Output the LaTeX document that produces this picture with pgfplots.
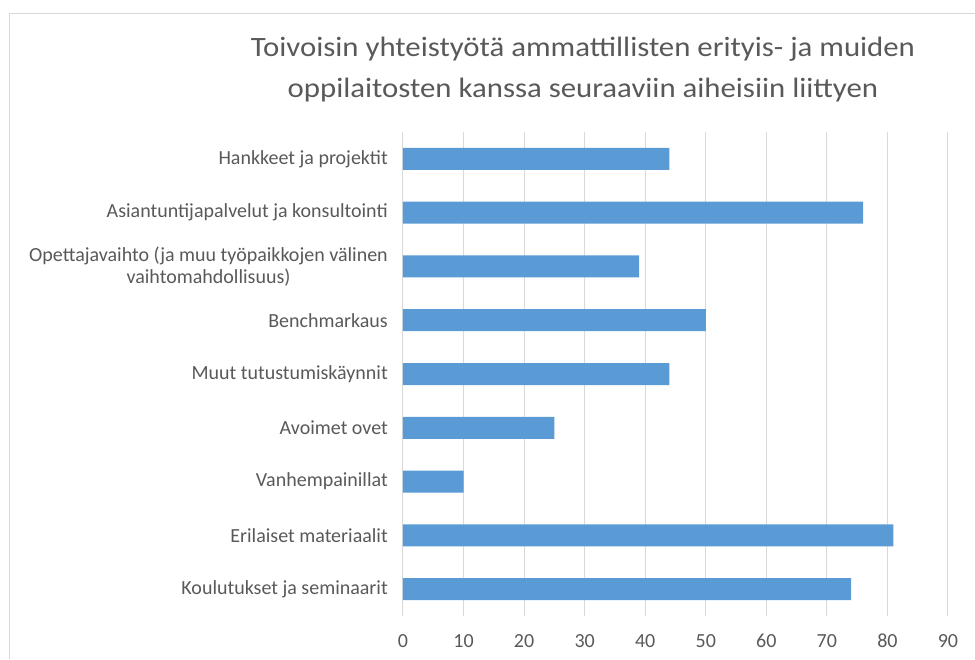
\documentclass[border=0pt]{standalone}
\usepackage{pgfplots}
\pgfplotsset{compat=1.18}
\usepackage{fontspec}
\setmainfont{Carlito}
\newfontfamily\titlefont[FakeStretch=1.1]{Carlito}
\definecolor{barblue}{HTML}{5B9BD5}
\definecolor{txt}{HTML}{595959}
\definecolor{gridc}{HTML}{D9D9D9}
\begin{document}
\begin{tikzpicture}
\path[use as bounding box] (0pt,0pt) rectangle (975pt,-659pt);
\draw[gridc, line width=1pt] (975pt,-13pt) -- (9.5pt,-13pt) -- (9.5pt,-659pt);
\node[txt, font=\titlefont\fontsize{28}{34}\selectfont, anchor=base, inner sep=0pt] at (583pt,-56pt)
  {Toivoisin yhteistyötä ammattillisten erityis- ja muiden};
\node[txt, font=\titlefont\fontsize{28}{34}\selectfont, anchor=base, inner sep=0pt] at (583pt,-97pt)
  {oppilaitosten kanssa seuraaviin aiheisiin liittyen};
\begin{axis}[
  at={(403pt,-132pt)}, anchor=north west,
  scale only axis, width=545pt, height=484pt,
  xbar, bar width=22pt,
  xmin=0, xmax=90, ymin=-0.5, ymax=8.5, y dir=reverse,
  ytick={0,...,8},
  yticklabels={Hankkeet ja projektit, Asiantuntijapalvelut ja konsultointi,
    {Opettajavaihto (ja muu työpaikkojen välinen\\vaihtomahdollisuus)},
    Benchmarkaus, Muut tutustumiskäynnit, Avoimet ovet, Vanhempainillat,
    Erilaiset materiaalit, Koulutukset ja seminaarit},
  xtick={0,10,...,90},
  xmajorgrids, major grid style={gridc, line width=1pt},
  axis line style={draw=none},
  major tick length=0pt,
  /pgf/number format/assume math mode=true,
  tick label style={txt, font=\fontsize{20}{22}\selectfont},
  yticklabel style={align=center, inner sep=0pt, xshift=-15pt},
  xticklabel style={inner sep=0pt, yshift=-18pt},
]
\addplot[fill=barblue, draw=none] coordinates {
  (44,0) (76,1) (39,2) (50,3) (44,4) (25,5) (10,6) (81,7) (74,8)
};
\end{axis}
\end{tikzpicture}
\end{document}
